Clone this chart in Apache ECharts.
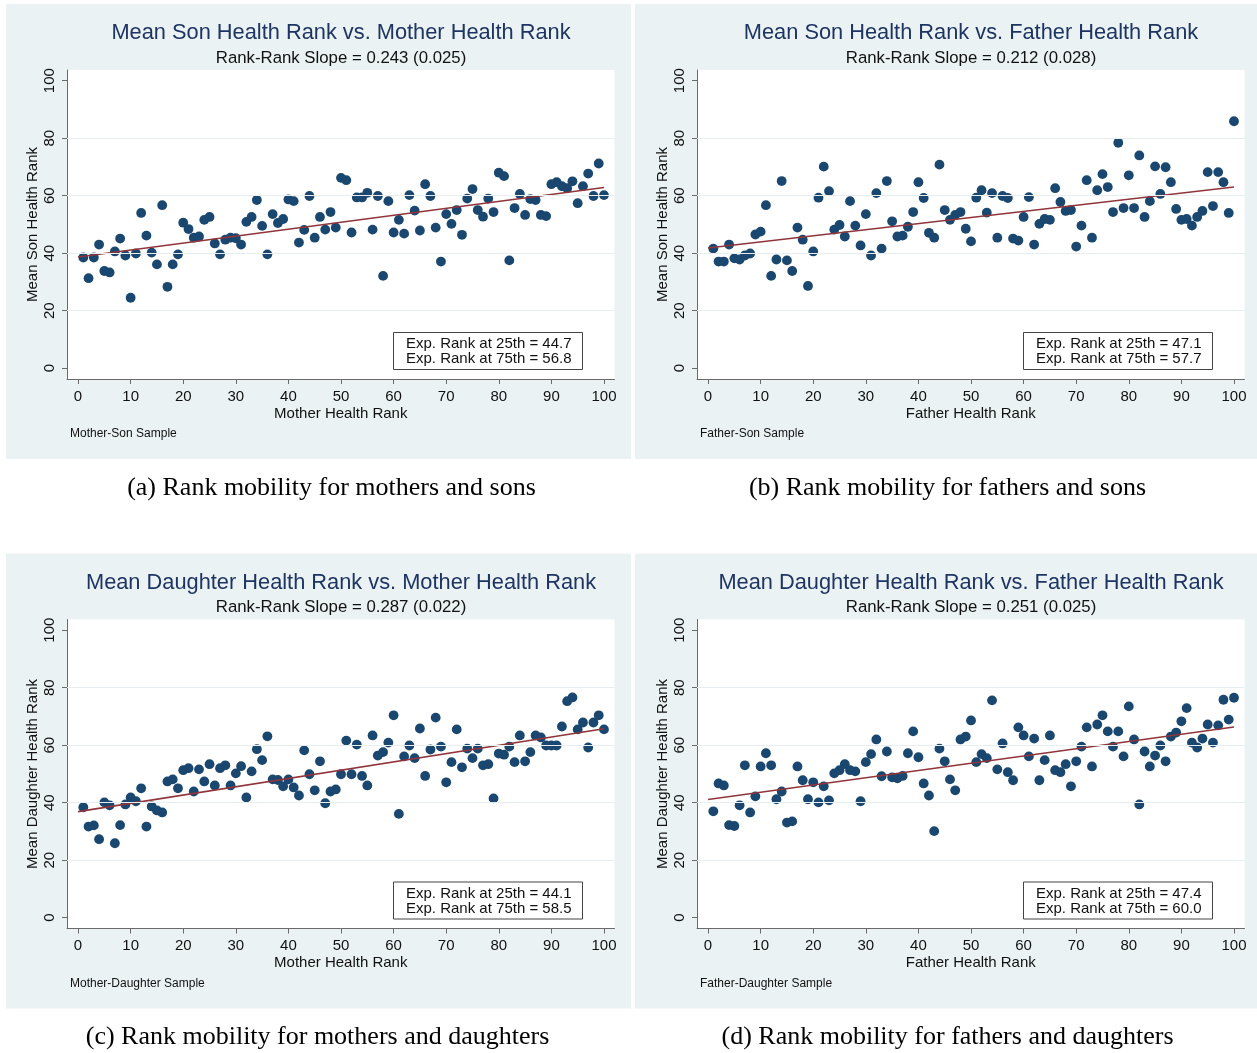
<!DOCTYPE html>
<html>
<head>
<meta charset="utf-8">
<script src="https://cdn.jsdelivr.net/npm/echarts@6/dist/echarts.min.js"></script>
<style>
html,body{margin:0;padding:0;background:#fff;}
#chart{width:1257px;height:1053px;}
</style>
</head>
<body>
<div id="chart"></div>
<script>
// ---------- DATA ----------
const parentRanks = [1,2,3,4,5,6,7,8,9,10,11,12,13,14,15,16,17,18,19,20,21,22,23,24,25,26,27,28,29,30,31,32,33,34,35,36,37,38,39,40,41,42,43,44,45,46,47,48,49,50,51,52,53,54,55,56,57,58,59,60,61,62,63,64,65,66,67,68,69,70,71,72,73,74,75,76,77,78,79,80,81,82,83,84,85,86,87,88,89,90,91,92,93,94,95,96,97,98,99,100];

const motherSon = [38.5,31.3,38.5,43.0,33.8,33.3,40.6,45.1,39.2,24.5,
39.9,54.0,46.1,40.2,36.1,56.7,28.3,36.1,39.6,50.6,
48.4,45.4,45.8,51.6,52.6,43.4,39.6,44.7,45.4,45.2,
43.0,50.9,52.6,58.5,49.5,39.6,53.6,50.5,51.9,58.7,
58.1,43.7,48.1,59.9,45.4,52.6,48.2,54.3,48.9,66.2,
65.4,47.2,59.4,59.4,61.0,48.2,59.9,32.1,58.1,47.2,
51.6,46.8,60.2,54.8,47.9,64.0,59.9,48.9,37.1,53.6,
50.2,55.0,46.4,59.0,62.3,55.0,52.7,59.0,54.3,68.0,
66.8,37.5,55.7,60.6,53.3,58.8,58.5,53.3,52.9,64.0,
64.7,63.3,62.6,65.0,57.4,63.3,67.7,59.9,71.2,60.2];

const fatherSon = [41.6,37.1,37.1,43.0,38.2,37.8,39.2,39.9,46.5,47.5,
56.7,32.1,37.8,65.1,37.5,33.8,48.9,44.7,28.6,40.6,
59.3,70.1,61.6,48.2,49.8,45.8,58.1,49.6,42.7,53.6,
39.2,60.9,41.6,65.1,51.1,45.8,46.1,49.2,54.3,64.7,
59.2,47.1,45.4,70.8,55.0,51.6,53.3,54.3,48.5,44.1,
59.3,61.9,54.1,60.9,45.4,59.9,59.2,45.1,44.4,52.6,
59.5,43.0,50.2,51.9,51.6,62.6,57.8,54.7,55.0,42.3,
49.6,65.4,45.4,61.9,67.5,63.0,54.3,78.4,55.7,67.1,
55.7,74.0,52.6,58.1,70.2,60.6,69.9,64.7,55.4,51.6,
51.9,49.6,52.6,54.7,68.2,56.4,68.2,64.7,54.0,85.9];

const motherDaughter = [38.4,31.7,32.1,27.3,40.1,39.1,25.9,32.2,39.4,41.8,
40.5,45.0,31.7,38.7,37.3,36.6,47.4,48.1,45.0,51.3,
52.0,43.9,51.6,47.4,53.4,46.0,52.0,53.0,46.0,50.2,
52.7,41.8,50.9,58.6,54.8,63.1,48.1,47.9,45.7,48.1,
45.3,42.5,58.2,49.9,44.3,54.4,39.8,43.9,44.6,49.9,
61.6,49.9,60.2,49.3,46.0,63.4,56.4,57.6,60.9,70.4,
36.1,56.1,59.9,55.5,65.8,49.3,58.5,69.6,59.5,47.1,
54.1,65.5,52.3,58.8,55.5,58.8,53.0,53.4,41.5,57.1,
56.7,59.5,54.1,63.4,54.4,57.6,63.4,62.7,59.9,59.9,
59.9,66.5,75.3,76.6,65.5,67.9,59.2,67.9,70.4,65.5];

const fatherDaughter = [37.0,46.7,46.0,32.2,31.9,39.1,53.0,36.6,42.2,52.6,
57.2,53.0,41.2,43.9,33.1,33.5,52.6,47.8,41.2,47.1,
40.1,45.7,40.8,50.2,51.3,53.4,51.3,50.9,40.5,54.1,
56.9,62.0,49.2,57.8,48.8,48.5,49.3,57.2,64.8,55.8,
46.7,42.5,30.1,58.8,54.4,48.1,44.3,62.0,63.0,68.6,
54.1,56.9,55.5,75.6,51.6,60.6,50.6,47.8,66.2,63.4,
56.1,62.3,47.8,54.8,63.4,51.3,50.6,53.4,45.7,54.4,
59.5,66.2,52.6,67.2,70.4,64.8,59.5,64.8,56.1,73.5,
62.0,39.4,57.8,52.6,56.4,59.9,54.4,63.0,64.4,68.3,
72.9,60.9,59.2,62.3,67.2,60.9,66.9,75.8,68.9,76.5];

const titles = ["Mean Son Health Rank vs. Mother Health Rank","Mean Son Health Rank vs. Father Health Rank","Mean Daughter Health Rank vs. Mother Health Rank","Mean Daughter Health Rank vs. Father Health Rank"];
const slopes = ["0.243","0.212","0.287","0.251"];
const slopeSE = ["0.025","0.028","0.022","0.025"];
const exp25 = [44.7,47.1,44.1,47.4];
const exp75 = [56.8,57.7,58.5,60.0];
const xNames = ["Mother Health Rank","Father Health Rank","Mother Health Rank","Father Health Rank"];
const yNames = ["Mean Son Health Rank","Mean Son Health Rank","Mean Daughter Health Rank","Mean Daughter Health Rank"];
const notes = ["Mother-Son Sample","Father-Son Sample","Mother-Daughter Sample","Father-Daughter Sample"];
const captions = ["(a) Rank mobility for mothers and sons","(b) Rank mobility for fathers and sons","(c) Rank mobility for mothers and daughters","(d) Rank mobility for fathers and daughters"];
const xTicks = [0,10,20,30,40,50,60,70,80,90,100];
const yTicks = [0,20,40,60,80,100];
const yGrid = [20,40,60,80];
const fitRange = [0,100];
const panelValues = [motherSon, fatherSon, motherDaughter, fatherDaughter];

// ---------- LAYOUT ----------
const SANS = "'Liberation Sans', Arial, Helvetica, sans-serif";
const SERIF = "'Liberation Serif', 'Times New Roman', serif";
const offX = [0, 630, 0, 630];
const offY = [0, 0, 549.5, 549.5];
const captionX = [331.5, 947.5, 317.5, 947.5];
const captionY = [488, 488, 1037, 1037];

const chart = echarts.init(document.getElementById('chart'), null, {renderer:'canvas'});

const grids = [], xAxes = [], yAxes = [], series = [], graphics = [];

for (let p = 0; p < 4; p++) {
  const ox = offX[p], oy = offY[p];
  grids.push({left: 67 + ox, top: 70 + oy, width: 547.5, height: 309, show: true,
    backgroundColor: '#ffffff', borderWidth: 0, containLabel: false});
  xAxes.push({
    gridIndex: p, type: 'value', min: -2.1, max: 102,
    name: xNames[p], nameLocation: 'middle', nameGap: 27,
    nameTextStyle: {fontFamily: SANS, fontSize: 15, color: '#111'},
    axisLine: {show: true, onZero: false, lineStyle: {color: '#6a6a6a', width: 1}},
    axisTick: {show: true, length: 5, customValues: xTicks, lineStyle: {color: '#6a6a6a'}},
    axisLabel: {customValues: xTicks, margin: 10, fontFamily: SANS, fontSize: 15, color: '#111'},
    splitLine: {show: false}
  });
  yAxes.push({
    gridIndex: p, type: 'value', min: -3.76, max: 103.72,
    name: yNames[p], nameLocation: 'middle', nameGap: 27, nameRotate: 90,
    nameTextStyle: {fontFamily: SANS, fontSize: 15, color: '#111'},
    axisLine: {show: true, onZero: false, lineStyle: {color: '#6a6a6a', width: 1}},
    axisTick: {show: true, length: 5, customValues: yTicks, lineStyle: {color: '#6a6a6a'}},
    axisLabel: {customValues: yTicks, rotate: 90, margin: 10, fontFamily: SANS, fontSize: 15, color: '#111'},
    splitLine: {show: false}
  });

  // gridlines via the y scale
  series.push({
    type: 'scatter', xAxisIndex: p, yAxisIndex: p, data: [], z: 1, silent: true,
    markLine: {silent: true, symbol: ['none','none'], label: {show: false},
      lineStyle: {color: '#e6eef1', width: 1.2, type: 'solid'},
      emphasis: {disabled: true},
      data: yGrid.map(v => ({yAxis: v}))}
  });

  const vals = panelValues[p];
  series.push({
    type: 'scatter', xAxisIndex: p, yAxisIndex: p, z: 3,
    symbol: 'circle', symbolSize: 9.8,
    itemStyle: {color: '#1a476f', opacity: 1},
    data: parentRanks.map((x, i) => [x, vals[i]])
  });

  const b = (exp75[p] - exp25[p]) / 50;
  const fit = fitRange.map(x => [x, exp25[p] + (x - 25) * b]);
  series.push({
    type: 'line', xAxisIndex: p, yAxisIndex: p, z: 4, symbol: 'none',
    lineStyle: {color: '#90353b', width: 1.6}, data: fit, silent: true
  });

  // panel background
  graphics.push({type: 'rect', z: -10, silent: true,
    shape: {x: (p % 2 === 0 ? 6 : 635), y: 4 + oy, width: (p % 2 === 0 ? 625 : 622), height: 455},
    style: {fill: '#eaf2f3'}});
  // titles
  graphics.push({type: 'text', z: 10, x: 341 + ox, y: 33 + oy,
    style: {text: titles[p], fontFamily: SANS, fontSize: 21.8, fill: '#1e3463', textAlign: 'center', textVerticalAlign: 'middle'}});
  graphics.push({type: 'text', z: 10, x: 341 + ox, y: 58 + oy,
    style: {text: 'Rank-Rank Slope = ' + slopes[p] + ' (' + slopeSE[p] + ')', fontFamily: SANS, fontSize: 16.8, fill: '#111', textAlign: 'center', textVerticalAlign: 'middle'}});
  // note
  graphics.push({type: 'text', z: 10, x: 70 + ox, y: 434 + oy,
    style: {text: notes[p], fontFamily: SANS, fontSize: 12, fill: '#111', textAlign: 'left', textVerticalAlign: 'middle'}});
  // expected rank box
  graphics.push({type: 'rect', z: 20, shape: {x: 393.5 + ox, y: 332.5 + oy, width: 189, height: 37},
    style: {fill: '#ffffff', stroke: '#444', lineWidth: 1}});
  graphics.push({type: 'text', z: 21, x: 406 + ox, y: 344 + oy,
    style: {text: 'Exp. Rank at 25th = ' + exp25[p].toFixed(1), fontFamily: SANS, fontSize: 15, fill: '#111', textAlign: 'left', textVerticalAlign: 'middle'}});
  graphics.push({type: 'text', z: 21, x: 406 + ox, y: 359 + oy,
    style: {text: 'Exp. Rank at 75th = ' + exp75[p].toFixed(1), fontFamily: SANS, fontSize: 15, fill: '#111', textAlign: 'left', textVerticalAlign: 'middle'}});
  // caption
  graphics.push({type: 'text', z: 10, x: captionX[p], y: captionY[p],
    style: {text: captions[p], fontFamily: SERIF, fontSize: 26, fill: '#000', textAlign: 'center', textVerticalAlign: 'middle'}});
}

chart.setOption({
  backgroundColor: '#ffffff',
  animation: false,
  grid: grids,
  xAxis: xAxes,
  yAxis: yAxes,
  series: series,
  graphic: {elements: graphics}
});
</script>
</body>
</html>
